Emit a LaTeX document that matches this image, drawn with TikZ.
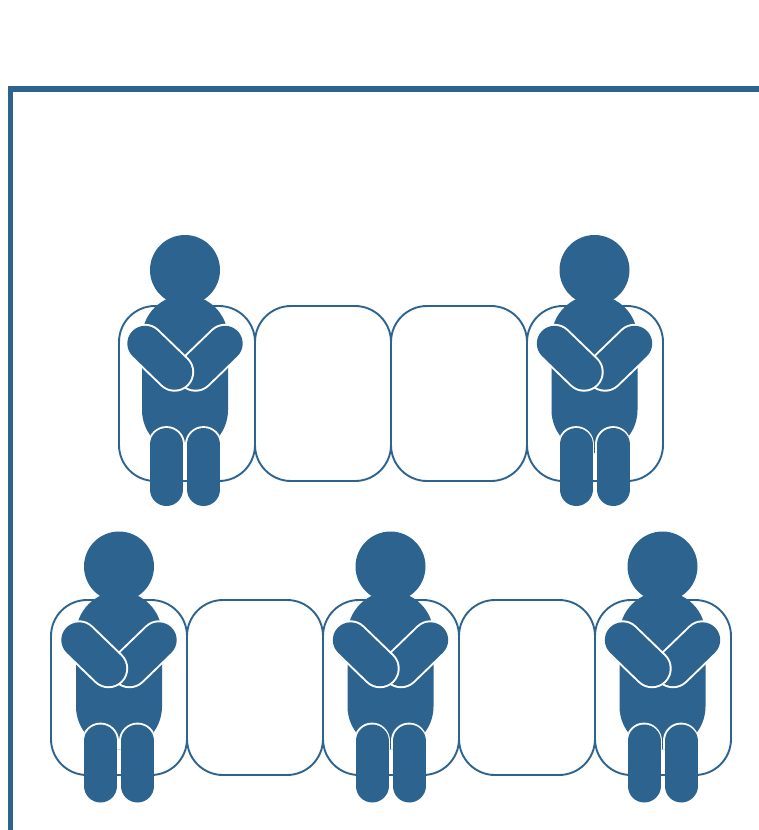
\documentclass[tikz,border=0pt]{standalone}
\definecolor{pblue}{HTML}{2D638F}
\tikzset{
  seat/.style={draw=pblue,line width=1.9pt,fill=white,rounded corners=36pt,minimum width=136pt,minimum height=175pt,inner sep=0pt,outer sep=0pt},
  frameline/.style={draw=pblue,line width=5.5pt,miter limit=10},
  bodypart/.style={fill=pblue}
}
\newcommand{\limb}[4]{%
  \draw[white,line width=39.4pt,line cap=round] (#1,#2) -- (#3,#4);
  \draw[pblue,line width=35.4pt,line cap=round] (#1,#2) -- (#3,#4);}
\newcommand{\legpart}[4]{%
  \begin{scope}
    \clip[rounded corners=43pt] (142,295) rectangle (228,453);
    \draw[white,line width=36.8pt,line cap=round] (#1,#2) -- (#3,#4);
  \end{scope}
  \draw[pblue,line width=33pt,line cap=round] (#1,#2) -- (#3,#4);}
\newcommand{\person}[2]{%
  \begin{scope}[shift={(#1-185,#2)}]
    \fill[bodypart] (185,270) circle[radius=35];
    \fill[bodypart,rounded corners=43pt] (142,295) rectangle (228,453);
    \legpart{166.5}{444.5}{166.5}{489.5}
    \legpart{203.5}{444.5}{203.5}{489.5}
    \limb{225}{343.5}{195.5}{372}
    \limb{145}{343.5}{174.5}{372}
  \end{scope}}
\begin{document}
\begin{tikzpicture}[x=1pt,y=-1pt]
\useasboundingbox (0,0) rectangle (759,830);
\draw[frameline] (10.5,830) -- (10.5,89) -- (759,89);
\foreach \n/\x in {a/187,b/323,c/459,d/595}
  \node[seat] (top\n) at (\x,393.5) {};
\foreach \n/\x in {a/119,b/255,c/391,d/527,e/663}
  \node[seat] (low\n) at (\x,687.5) {};
\person{185}{0}
\person{594.5}{0}
\person{119}{296.5}
\person{390.5}{296.5}
\person{662.5}{296.5}
\end{tikzpicture}
\end{document}
